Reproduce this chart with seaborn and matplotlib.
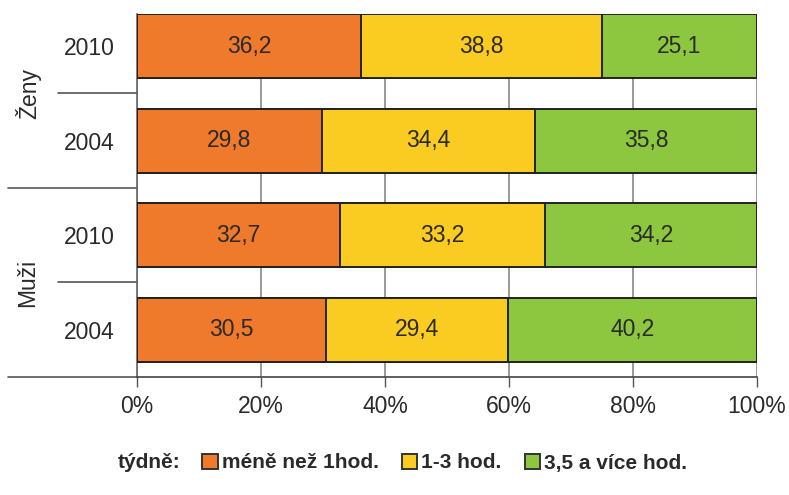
import numpy as np
import pandas as pd
import matplotlib
matplotlib.use("Agg")
import matplotlib.pyplot as plt
import seaborn as sns
from matplotlib.patches import Patch
import matplotlib.transforms as mtrans

groups = ["Ženy", "Ženy", "Muži", "Muži"]
years = ["2010", "2004", "2010", "2004"]
categories = ["méně než 1hod.", "1-3 hod.", "3,5 a více hod."]
less1 = [36.2, 29.8, 32.7, 30.5]
h1_3 = [38.8, 34.4, 33.2, 29.4]
more35 = [25.1, 35.8, 34.2, 40.2]
xticklabels = ["0%", "20%", "40%", "60%", "80%", "100%"]

colors = ["#F07A2B", "#FACB20", "#8DC63F"]

sns.set_theme(style="white")
plt.rcParams['font.family'] = ['Liberation Sans', 'DejaVu Sans']

fig = plt.figure(figsize=(7.89, 4.95), dpi=100)
ax = fig.add_axes([137/789, 1-377/495, (757-137)/789, (377-14)/495])

rows = [f"{g} {y}" for g, y in zip(groups, years)]
series = [less1, h1_3, more35]
vals = np.array(series)
cum = np.cumsum(vals, axis=0)
total = cum[-1]
cum_pct = cum / total * 100

for i in range(len(categories) - 1, -1, -1):
    df = pd.DataFrame({"row": rows, "val": cum_pct[i]})
    sns.barplot(data=df, x="val", y="row", orient="h", color=colors[i],
                saturation=1, width=0.68, edgecolor="#222222", linewidth=1.4,
                ax=ax, zorder=3)

for j in range(len(rows)):
    starts = np.concatenate([[0], cum_pct[:-1, j]])
    for i in range(len(categories)):
        mid = (starts[i] + cum_pct[i, j]) / 2
        ax.text(mid, j, f"{series[i][j]:.1f}".replace(".", ","), ha="center",
                va="center", fontsize=16.5, color="#2a2a2a", zorder=5)

ax.set_xlim(0, 100)
ax.set_ylim(3.5, -0.34)
ax.set_xticks([0, 20, 40, 60, 80, 100])
ax.set_xticklabels(xticklabels, fontsize=16.5, color="#2a2a2a")
ax.set_yticks(range(len(rows)))
ax.set_yticklabels(years, fontsize=16.5, color="#2a2a2a")
ax.set_xlabel("")
ax.set_ylabel("")
ax.xaxis.grid(True, color="#888888", linewidth=1.2, zorder=0)
ax.set_axisbelow(True)
ax.tick_params(axis="x", direction="out", length=7, width=1, color="#555555", pad=6, bottom=True)
ax.tick_params(axis="y", length=0, pad=16)
for s in ["top", "right"]:
    ax.spines[s].set_visible(False)
ax.spines["left"].set_color("#666666")
ax.spines["bottom"].set_color("#444444")
ax.spines["left"].set_linewidth(1.2)
ax.spines["bottom"].set_linewidth(1.2)

trans = mtrans.blended_transform_factory(fig.transFigure, ax.transData)
for yv, x0 in [(0.5, 58/789), (1.5, 8/789), (2.5, 58/789), (3.5, 8/789)]:
    ax.plot([x0, 137/789], [yv, yv], transform=trans, color="#555555",
            linewidth=1.2, clip_on=False)

for name, yv in [("Ženy", 0.5), ("Muži", 2.5)]:
    ax.text(28/789, yv, name, transform=trans, rotation=90, ha="center",
            va="center", fontsize=16.5, color="#2a2a2a")

fig.text(118/789, 1-463/495, "týdně:", fontsize=15, va="center", ha="left",
         color="#2a2a2a", fontweight="bold")
handles = [Patch(facecolor=c, edgecolor="#333333", linewidth=1.4) for c in colors]
fig.legend(handles, categories, loc="center left", ncol=3,
           bbox_to_anchor=(202/789, 1-463/495), frameon=False,
           handlelength=0.75, handleheight=0.75, handletextpad=0.2,
           columnspacing=1.1, prop={"size": 15, "weight": "bold"},
           labelcolor="#2a2a2a", borderpad=0, borderaxespad=0)

fig.savefig("out.png", dpi=100)
